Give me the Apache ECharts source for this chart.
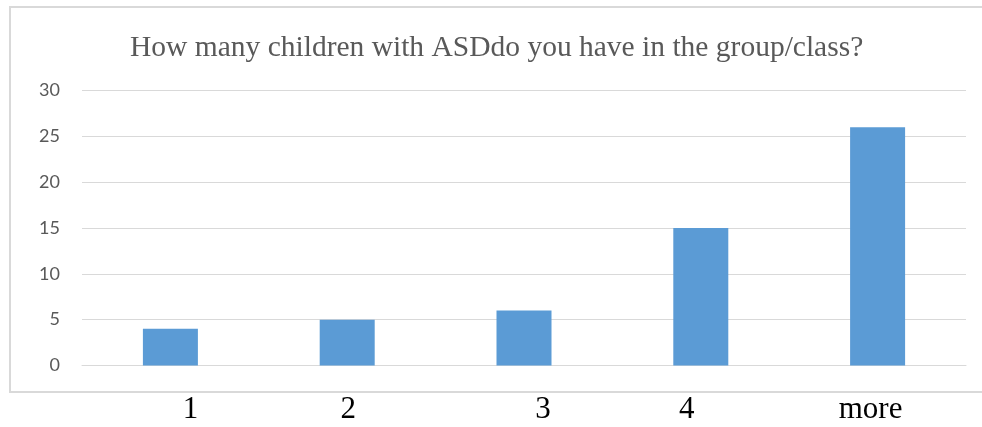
<!DOCTYPE html>
<html>
<head>
<meta charset="utf-8">
<script src="https://cdn.jsdelivr.net/npm/echarts@6/dist/echarts.min.js"></script>
<style>
  html, body { margin: 0; padding: 0; background: #ffffff; }
  #chart { width: 982px; height: 427px; }
</style>
</head>
<body>
<div id="chart"></div>
<script>
// Survey answers: number of children with ASD per group/class
const categories = ['1', '2', '3', '4', 'more'];
const counts = [4, 5, 6, 15, 26];
const yTicks = [0, 5, 10, 15, 20, 25, 30];

// Horizontal nudges for the category labels (left, right padding in px)
const labelPads = [[40, 0], [2, 0], [38, 0], [0, 28], [0, 14]];

const rich = {};
categories.forEach(function (c, i) {
  rich['c' + i] = {
    fontFamily: '"Liberation Serif", "Times New Roman", serif',
    fontSize: 31,
    lineHeight: 31,
    color: '#000000',
    padding: [0, labelPads[i][1], 0, labelPads[i][0]]
  };
});

const chart = echarts.init(document.getElementById('chart'), null, { renderer: 'canvas' });

chart.setOption({
  backgroundColor: '#ffffff',
  animation: false,
  title: {
    text: 'How many children with ASDdo you have in the group/class?',
    left: 125,
    top: 28,
    textStyle: {
      fontFamily: '"Liberation Serif", "Times New Roman", serif',
      fontSize: 29.5,
      lineHeight: 30,
      fontWeight: 'normal',
      color: '#595959'
    }
  },
  graphic: [{
    type: 'rect',
    shape: { x: 10, y: 7, width: 980, height: 385 },
    style: { fill: 'none', stroke: '#d9d9d9', lineWidth: 2 },
    silent: true,
    z: -1
  }],
  grid: { left: 82, right: 16, top: 90.5, bottom: 61.5, containLabel: false },
  xAxis: {
    type: 'category',
    data: categories,
    axisLine: { show: true, lineStyle: { color: '#d9d9d9', width: 1 } },
    axisTick: { show: false },
    axisLabel: {
      margin: 29,
      interval: 0,
      formatter: function (v, i) { return '{c' + i + '|' + v + '}'; },
      rich: rich
    }
  },
  yAxis: {
    type: 'value',
    min: yTicks[0],
    max: yTicks[yTicks.length - 1],
    interval: yTicks[1] - yTicks[0],
    axisLine: { show: false },
    axisTick: { show: false },
    splitLine: { lineStyle: { color: '#d9d9d9', width: 1 } },
    axisLabel: {
      margin: 22,
      fontFamily: 'Lato, "Open Sans", sans-serif',
      fontSize: 18,
      color: '#595959'
    }
  },
  series: [{
    type: 'bar',
    data: counts,
    barWidth: 55,
    itemStyle: { color: '#5b9bd5' }
  }]
});
</script>
</body>
</html>
